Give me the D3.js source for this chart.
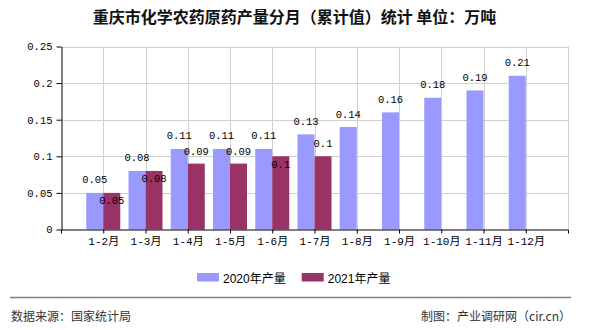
<!DOCTYPE html>
<html><head><meta charset="utf-8">
<script src="https://cdn.jsdelivr.net/npm/d3@7/dist/d3.min.js"></script>
<style>body{margin:0;background:#fff}svg{display:block}</style>
</head><body><svg id="c" width="590" height="330"></svg>
<script>
const titleText = "重庆市化学农药原药产量分月（累计值）统计 单位：万吨";
const categories = ["1-2月","1-3月","1-4月","1-5月","1-6月","1-7月","1-8月","1-9月","1-10月","1-11月","1-12月"];
const values2020 = [0.05,0.08,0.11,0.11,0.11,0.13,0.14,0.16,0.18,0.19,0.21];
const values2021 = [0.05,0.08,0.09,0.09,0.1,0.1];
const yTicks = [0,0.05,0.1,0.15,0.2,0.25];
const seriesNames = ["2020年产量","2021年产量"];
const seriesColors = ["#9999ff","#993366"];
const sourceText = "数据来源：国家统计局";
const makerText = "制图：产业调研网（cir.cn）";

const svg = d3.select("#c");
const L = 61, R = 568, T = 46.5, B = 229.5;
const mono = "'Liberation Mono','DejaVu Sans Mono','Noto Sans CJK SC',monospace";
const cjk = "'Noto Sans CJK SC','Liberation Sans',sans-serif";

const x = d3.scalePoint().domain(categories).range([L, R]).padding(1);
const y = d3.scaleLinear().domain([0, 0.25]).range([B, T]);
const barW = 17;

// title
svg.append("text").attr("x", 294.5).attr("y", 23).attr("text-anchor","middle")
  .attr("font-family", cjk).attr("font-size", 16).attr("font-weight","bold").attr("fill","#111")
  .text(titleText);

// gridlines
const grid = svg.append("g").attr("stroke","#d0d0d0").attr("stroke-width",1);
yTicks.filter(v => v > 0).forEach(v => {
  grid.append("line").attr("x1", L).attr("x2", R).attr("y1", Math.round(y(v))+0.5).attr("y2", Math.round(y(v))+0.5);
});
categories.forEach(c => {
  const cx = Math.round(x(c)) + 0.5;
  grid.append("line").attr("x1", cx).attr("x2", cx).attr("y1", T).attr("y2", B);
});
grid.append("line").attr("x1", R+0.5).attr("x2", R+0.5).attr("y1", T).attr("y2", B);

// bars
const bars = svg.append("g");
values2020.forEach((v, i) => {
  const c = categories[i];
  bars.append("rect").attr("x", x(c) - barW).attr("width", barW)
    .attr("y", y(v)).attr("height", y(0) - y(v)).attr("fill", seriesColors[0]);
});
values2021.forEach((v, i) => {
  const c = categories[i];
  bars.append("rect").attr("x", x(c)).attr("width", barW)
    .attr("y", y(v)).attr("height", y(0) - y(v)).attr("fill", seriesColors[1]);
});

// value labels
const labels = svg.append("g").attr("font-family", mono).attr("font-size", 10.5)
  .attr("fill","#000").attr("text-anchor","middle");
values2020.forEach((v, i) => {
  const c = categories[i];
  labels.append("text").attr("x", x(c) - barW/2).attr("y", y(v) - 9.5).text(String(v));
});
values2021.forEach((v, i) => {
  const c = categories[i];
  const inside = Math.abs(y(values2020[i]) - y(v)) < 10;
  labels.append("text").attr("x", x(c) + barW/2)
    .attr("y", inside ? y(v) + 11.5 : y(v) - 9).text(String(v));
});

// y axis
const yAxis = svg.append("g").attr("transform", `translate(${L+0.5},0)`)
  .call(d3.axisLeft(y).tickValues(yTicks).tickSize(5).tickSizeOuter(0).tickFormat(d => String(d)));
yAxis.select(".domain").attr("stroke","#000");
yAxis.selectAll(".tick line").attr("stroke","#000");
yAxis.selectAll(".tick text").attr("font-family", mono).attr("font-size", 10.5).attr("fill","#000").attr("x", -9);

// x axis
const xAxis = svg.append("g").attr("transform", `translate(0,${B})`)
  .call(d3.axisBottom(x).tickSize(4).tickSizeOuter(4));
xAxis.select(".domain").attr("stroke","#000");
xAxis.selectAll(".tick line").attr("stroke","#000");
xAxis.selectAll(".tick text").attr("font-family", mono).attr("font-size", 11).attr("fill","#000").attr("y", 8);

// legend
const leg = svg.append("g");
let lx = 197;
seriesNames.forEach((n, i) => {
  leg.append("rect").attr("x", lx).attr("y", 273).attr("width", 22).attr("height", 8.5).attr("fill", seriesColors[i]);
  const t = leg.append("text").attr("x", lx + 26).attr("y", 283).attr("font-family", "'Liberation Sans','Noto Sans CJK SC',sans-serif")
    .attr("font-size", 12).attr("fill","#000").text(n);
  lx += 26 + t.node().getComputedTextLength() + 16;
});

// footer
svg.append("line").attr("x1", 10).attr("x2", 571).attr("y1", 297.5).attr("y2", 297.5)
  .attr("stroke","#808080").attr("stroke-width", 1.5);
svg.append("text").attr("x", 11).attr("y", 320.5).attr("font-family", cjk).attr("font-size", 12)
  .attr("fill","#333").text(sourceText);
svg.append("text").attr("x", 571).attr("y", 320.5).attr("text-anchor","end").attr("font-family", cjk).attr("font-size", 12)
  .attr("fill","#333").text(makerText);
</script>
</body></html>
